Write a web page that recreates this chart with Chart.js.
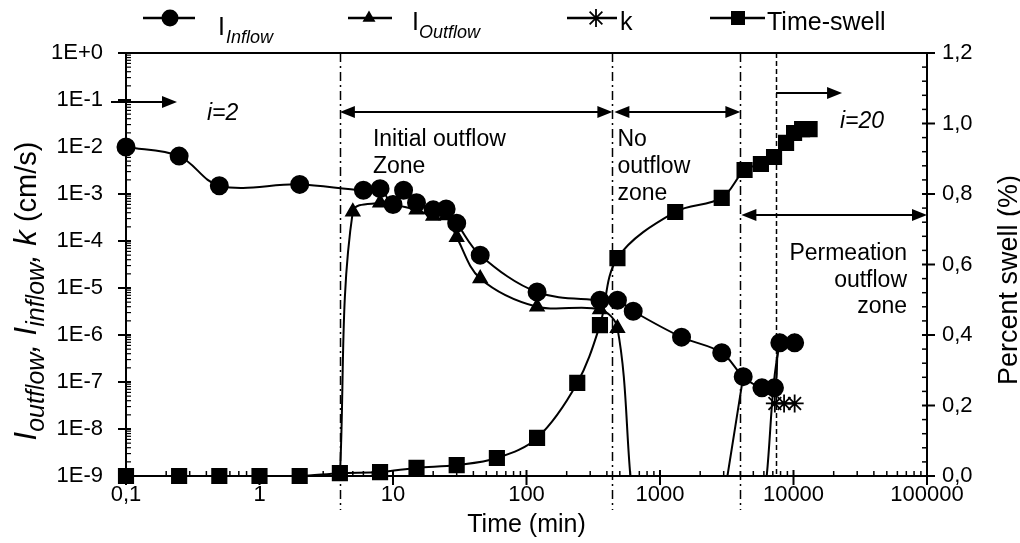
<!DOCTYPE html>
<html><head><meta charset="utf-8">
<script src="https://cdn.jsdelivr.net/npm/chart.js@4.4.1/dist/chart.umd.min.js"></script>
<style>html,body{margin:0;padding:0;background:#fff}#wrap{width:1020px;height:543px;position:relative}</style>
</head><body><div id="wrap"><canvas id="c"></canvas></div>
<script>
// ---- data ----
const timeInflow = [0.1, 0.25, 0.5, 2, 6, 8, 10, 12, 15, 20, 25, 30, 45, 120, 355, 480, 630, 1450, 2900, 4200, 5800, 7200, 7900, 10200];
const inflow     = [1.0e-2, 6.4e-3, 1.5e-3, 1.6e-3, 1.2e-3, 1.3e-3, 6.0e-4, 1.2e-3, 6.5e-4, 4.6e-4, 4.8e-4, 2.4e-4, 5.0e-5, 8.2e-6, 5.5e-6, 5.5e-6, 3.2e-6, 9.0e-7, 4.2e-7, 1.3e-7, 7.5e-8, 7.5e-8, 6.8e-7, 6.8e-7];
// 1e-9 = no outflow (reaches the axis floor); null = break in the record
const timeOutflow = [4, 5, 8, 10, 15, 20, 25, 30, 45, 120, 355, 480, 600, 1500, 3200, 4200, 5800, 6300, 7900, 10200];
const outflow     = [1e-9, 4.2e-4, 6.5e-4, 6.0e-4, 4.6e-4, 3.4e-4, 3.5e-4, 1.2e-4, 1.6e-5, 4.0e-6, 3.5e-6, 1.4e-6, 1e-9, null, 1e-9, 1.3e-7, null, 1e-9, 6.8e-7, 6.8e-7];
const timeK = [7250, 8500, 10200];
const kValues = [3.5e-8, 3.5e-8, 3.5e-8];
const timeSwell = [0.1, 0.25, 0.5, 1, 2, 4, 8, 15, 30, 60, 120, 240, 355, 480, 1300, 2900, 4300, 5700, 7150, 8800, 10100, 11600, 13200];
const swell     = [0, 0, 0, 0, 0, 0.008, 0.011, 0.023, 0.031, 0.051, 0.108, 0.264, 0.428, 0.618, 0.749, 0.789, 0.868, 0.885, 0.905, 0.945, 0.973, 0.984, 0.984];

const xTickValues = [0.1, 1, 10, 100, 1000, 10000, 100000];
const xTickLabels = ['0,1', '1', '10', '100', '1000', '10000', '100000'];
const yTickValues = [1e-9, 1e-8, 1e-7, 1e-6, 1e-5, 1e-4, 1e-3, 1e-2, 1e-1, 1];
const yTickLabels = ['1E-9', '1E-8', '1E-7', '1E-6', '1E-5', '1E-4', '1E-3', '1E-2', '1E-1', '1E+0'];
const y2TickValues = [0, 0.2, 0.4, 0.6, 0.8, 1.0, 1.2];
const y2TickLabels = ['0,0', '0,2', '0,4', '0,6', '0,8', '1,0', '1,2'];

const zoneBounds = [4, 440, 4000];   // dash-dot boundaries (min)
const gradientStep = 7400;           // dashed line: i = 20 starts
const FLOOR = 1e-9;

const FONT = "'Liberation Sans', Arial, Helvetica, sans-serif";
Chart.defaults.font.family = FONT;
Chart.defaults.color = '#000';

const pts = (xs, ys) => xs.map((x, i) => ({x: x, y: ys[i]}));

function arrowHead(g, x, y, dir) { // dir +1 -> pointing right, -1 left
  const L = 15, H = 6;
  g.beginPath(); g.moveTo(x, y); g.lineTo(x - dir * L, y - H); g.lineTo(x - dir * L, y + H); g.closePath(); g.fill();
}
function arrow(g, x1, x2, y, both) {
  g.beginPath(); g.moveTo(x1 + (both ? 6 : 0), y); g.lineTo(x2 - 6, y); g.stroke();
  arrowHead(g, x2, y, 1);
  if (both) arrowHead(g, x1, y, -1);
}
function drawMarker(g, type, x, y) {
  g.save(); g.fillStyle = '#000'; g.strokeStyle = '#000';
  if (type === 'circle') { g.beginPath(); g.arc(x, y, 8.5, 0, Math.PI * 2); g.fill(); }
  else if (type === 'triangle') { const r = 7.5; g.beginPath(); g.moveTo(x, y - r); g.lineTo(x + r * 0.866, y + r / 2); g.lineTo(x - r * 0.866, y + r / 2); g.closePath(); g.fill(); }
  else if (type === 'rect') { g.fillRect(x - 7, y - 7, 14, 14); }
  else if (type === 'star') { const r = 9; g.lineWidth = 1.8; g.beginPath();
    for (let a = 0; a < 4; a++) { const t = a * Math.PI / 4; g.moveTo(x + r * Math.cos(t), y + r * Math.sin(t)); g.lineTo(x - r * Math.cos(t), y - r * Math.sin(t)); }
    g.stroke(); }
  g.restore();
}

const overlay = {
  id: 'overlay',
  beforeDatasetsDraw(chart) {
    const g = chart.ctx, xs = chart.scales.x, a = chart.chartArea;
    g.save(); g.strokeStyle = '#000'; g.lineWidth = 1.5;
    g.setLineDash([9, 4, 2, 4]);
    zoneBounds.forEach(v => { const px = Math.round(xs.getPixelForValue(v)) + 0.5; g.beginPath(); g.moveTo(px, a.top); g.lineTo(px, a.bottom + 34); g.stroke(); });
    g.setLineDash([5, 3]);
    const pd = Math.round(xs.getPixelForValue(gradientStep)) + 0.5;
    g.beginPath(); g.moveTo(pd, a.top); g.lineTo(pd, a.bottom); g.stroke();
    g.restore();
  },
  afterDraw(chart) {
    const g = chart.ctx, xs = chart.scales.x, ys = chart.scales.y, y2 = chart.scales.y2, a = chart.chartArea;
    g.save();
    g.strokeStyle = '#000'; g.fillStyle = '#000';
    // top frame line
    g.lineWidth = 2; g.beginPath(); g.moveTo(a.left, a.top); g.lineTo(a.right, a.top); g.stroke();
    // x tick marks
    for (let d = -1; d <= 5; d++) {
      const px = xs.getPixelForValue(Math.pow(10, d));
      g.lineWidth = 2; g.beginPath(); g.moveTo(px, a.bottom - 6); g.lineTo(px, a.bottom + 9); g.stroke();
      if (d < 5) for (let m = 2; m <= 9; m++) {
        const p = xs.getPixelForValue(m * Math.pow(10, d));
        g.lineWidth = 1.5; g.beginPath(); g.moveTo(p, a.bottom); g.lineTo(p, a.bottom - 5); g.stroke();
      }
    }
    // left y tick marks
    for (let d = -9; d <= 0; d++) {
      const py = ys.getPixelForValue(Math.pow(10, d));
      g.lineWidth = 2; g.beginPath(); g.moveTo(a.left - 8, py); g.lineTo(a.left + 5, py); g.stroke();
      if (d < 0) for (let m = 2; m <= 9; m++) {
        const p = ys.getPixelForValue(m * Math.pow(10, d));
        g.lineWidth = 1.2; g.beginPath(); g.moveTo(a.left, p); g.lineTo(a.left + 5, p); g.stroke();
      }
    }
    // right y tick marks
    for (let i = 0; i <= 30; i++) {
      const v = i * 0.04, py = y2.getPixelForValue(v);
      const major = i % 5 === 0;
      g.lineWidth = major ? 2 : 1.5; g.beginPath();
      g.moveTo(a.right - 5, py); g.lineTo(a.right + (major ? 8 : 0), py); g.stroke();
    }
    // arrows
    g.lineWidth = 2;
    const X = v => xs.getPixelForValue(v);
    arrow(g, X(0.1) - 15, X(0.1) + 51, 102, false);
    arrow(g, X(zoneBounds[0]), X(zoneBounds[1]), 112, true);
    arrow(g, X(zoneBounds[1]) + 2, X(zoneBounds[2]), 112, true);
    arrow(g, X(gradientStep), X(gradientStep) + 66, 93, false);
    arrow(g, X(zoneBounds[2]) + 1, X(100000), 215, true);
    // annotation texts
    g.font = '23px ' + FONT; g.textBaseline = 'alphabetic'; g.textAlign = 'left';
    g.fillText('Initial outflow', X(zoneBounds[0]) + 33, 146);
    g.fillText('Zone', X(zoneBounds[0]) + 33, 173);
    g.fillText('No', X(zoneBounds[1]) + 5, 146);
    g.fillText('outflow', X(zoneBounds[1]) + 5, 173);
    g.fillText('zone', X(zoneBounds[1]) + 5, 200);
    g.textAlign = 'right';
    g.fillText('Permeation', X(100000) - 20, 260);
    g.fillText('outflow', X(100000) - 20, 287);
    g.fillText('zone', X(100000) - 20, 313);
    g.textAlign = 'left';
    g.font = 'italic 23px ' + FONT;
    g.fillText('i=2', 207, 120);
    g.fillText('i=20', 840, 128);
    // axis titles
    g.font = '25px ' + FONT; g.textAlign = 'center';
    g.fillText('Time (min)', (a.left + a.right) / 2, 532);
    g.save(); g.translate(1010, 280); g.rotate(-Math.PI / 2);
    g.font = '27px ' + FONT;
    g.textBaseline = 'middle'; g.fillText('Percent swell (%)', 0, 0); g.restore();
    // left rotated title with subscripts
    const segs = [
      {t: 'I', f: 'italic 31px ' + FONT, dy: 0},
      {t: 'outflow', f: 'italic 25px ' + FONT, dy: 8},
      {t: ', ', f: 'italic 31px ' + FONT, dy: 0},
      {t: 'I', f: 'italic 31px ' + FONT, dy: 0},
      {t: 'inflow', f: 'italic 25px ' + FONT, dy: 8},
      {t: ', ', f: 'italic 31px ' + FONT, dy: 0},
      {t: 'k', f: 'italic 31px ' + FONT, dy: 0},
      {t: ' (cm/s)', f: '29px ' + FONT, dy: 0}
    ];
    let tot = 0; segs.forEach(s => { g.font = s.f; s.w = g.measureText(s.t).width; tot += s.w; });
    g.save(); g.translate(36, 291); g.rotate(-Math.PI / 2); g.textAlign = 'left'; g.textBaseline = 'alphabetic';
    let cx = -tot / 2; segs.forEach(s => { g.font = s.f; g.fillText(s.t, cx, s.dy); cx += s.w; }); g.restore();
    // legend
    g.lineWidth = 2.5;
    const leg = [
      {m: 'circle', x1: 143, x2: 195, mx: 170},
      {m: 'triangle', x1: 348, x2: 392, mx: 369},
      {m: 'star', x1: 567, x2: 617, mx: 596},
      {m: 'rect', x1: 710, x2: 765, mx: 738}
    ];
    leg.forEach(l => { g.beginPath(); g.moveTo(l.x1, 18); g.lineTo(l.x2, 18); g.stroke(); drawMarker(g, l.m, l.mx, 18); });
    g.textAlign = 'left';
    g.font = '25px ' + FONT; g.fillText('I', 218, 35);
    g.font = 'italic 18px ' + FONT; g.fillText('Inflow', 226, 43);
    g.font = '25px ' + FONT; g.fillText('I', 412, 30);
    g.font = 'italic 18px ' + FONT; g.fillText('Outflow', 419, 38);
    g.font = '25px ' + FONT; g.fillText('k', 620, 30);
    g.fillText('Time-swell', 767, 30);
    g.restore();
  }
};

const tickFont = {size: 22, family: FONT};
new Chart(document.getElementById('c'), {
  type: 'line',
  data: {
    datasets: [
      {label: 'I Inflow', data: pts(timeInflow, inflow), yAxisID: 'y', borderColor: '#000', backgroundColor: '#000', borderWidth: 2,
       pointStyle: 'circle', pointRadius: 8.5, tension: 0.35, clip: false},
      {label: 'I Outflow', data: pts(timeOutflow, outflow), yAxisID: 'y', borderColor: '#000', backgroundColor: '#000', borderWidth: 2,
       pointStyle: 'triangle', pointRadius: c => (c.raw && c.raw.y !== null && c.raw.y <= FLOOR) ? 0 : 7.5, tension: 0.35, spanGaps: false},
      {label: 'k', data: pts(timeK, kValues), yAxisID: 'y', borderColor: '#000', backgroundColor: '#000', borderWidth: 2,
       pointStyle: 'star', pointRadius: 9, pointBorderWidth: 1.8, tension: 0, clip: false},
      {label: 'Time-swell', data: pts(timeSwell, swell), yAxisID: 'y2', borderColor: '#000', backgroundColor: '#000', borderWidth: 2,
       pointStyle: 'rect', pointRadius: 10, tension: 0.35, clip: false}
    ]
  },
  options: {
    responsive: true, maintainAspectRatio: false, animation: false,
    layout: {padding: {top: 53, left: 0, right: 0, bottom: 0}, autoPadding: false},
    plugins: {legend: {display: false}, tooltip: {enabled: false}},
    scales: {
      x: {type: 'logarithmic', position: 'bottom', min: 0.1, max: 100000,
          grid: {display: false, drawTicks: false}, border: {display: true, color: '#000', width: 2},
          ticks: {autoSkip: false, maxRotation: 0, padding: 6, color: '#000', font: tickFont, callback: (v, i) => xTickLabels[i]},
          afterBuildTicks: s => { s.ticks = xTickValues.map(v => ({value: v})); },
          afterFit: s => { s.height = 67; }},
      y: {type: 'logarithmic', position: 'left', min: 1e-9, max: 1,
          grid: {display: false, drawTicks: false}, border: {display: true, color: '#000', width: 2},
          ticks: {autoSkip: false, padding: 23, color: '#000', font: tickFont, callback: (v, i) => yTickLabels[i]},
          afterBuildTicks: s => { s.ticks = yTickValues.map(v => ({value: v})); },
          afterFit: s => { s.width = 126; }},
      y2: {type: 'linear', position: 'right', min: 0, max: 1.2,
          grid: {display: false, drawTicks: false}, border: {display: true, color: '#000', width: 2},
          ticks: {autoSkip: false, padding: 15, color: '#000', font: tickFont, callback: (v, i) => y2TickLabels[i]},
          afterBuildTicks: s => { s.ticks = y2TickValues.map(v => ({value: v})); },
          afterFit: s => { s.width = 93; }}
    }
  },
  plugins: [overlay]
});
</script></body></html>
